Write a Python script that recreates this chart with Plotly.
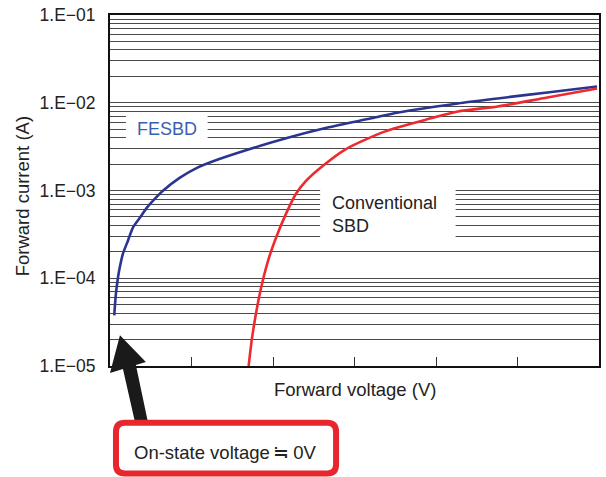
import plotly.graph_objects as go

# Forward characteristics (voltage in axis units, current in A)
fesbd_v = [0.052, 0.073, 0.098, 0.122, 0.159, 0.220, 0.280, 0.366, 0.451, 0.549,
           0.646, 0.854, 1.061, 1.341, 1.707, 2.159, 2.683, 3.207, 3.537, 4.268,
           4.756, 5.366, 5.976]
fesbd_i = [3.78e-5, 6.71e-5, 1.02e-4, 1.36e-4, 1.91e-4, 2.68e-4, 3.76e-4, 4.88e-4,
           6.34e-4, 8.02e-4, 9.86e-4, 1.39e-3, 1.80e-3, 2.28e-3, 2.95e-3, 3.94e-3,
           5.25e-3, 6.64e-3, 7.75e-3, 9.82e-3, 1.12e-2, 1.31e-2, 1.53e-2]

sbd_v = [1.701, 1.744, 1.805, 1.866, 1.951, 2.037, 2.159, 2.280, 2.402, 2.561,
         2.890, 3.378, 3.939, 4.268, 4.756, 5.366, 5.976]
sbd_i = [1.0e-5, 2.13e-5, 4.67e-5, 8.73e-5, 1.72e-4, 2.90e-4, 5.42e-4, 9.12e-4,
         1.28e-3, 1.75e-3, 2.95e-3, 4.72e-3, 6.64e-3, 7.96e-3, 9.06e-3, 1.15e-2,
         1.45e-2]

decades = [-5, -4, -3, -2, -1]
decade_labels = ["1.E\u221205", "1.E\u221204", "1.E\u221203", "1.E\u221202", "1.E\u221201"]
x_ticks = [1, 2, 3, 4, 5]

FONT = "Liberation Sans, Arial, Helvetica, sans-serif"
W, H = 606, 477
ML, MR, MT, MB = 110, 5, 13, 111
PW, PH = W - ML - MR, H - MT - MB


def px(x):
    return (x - ML) / PW


def py(y):
    return (H - MB - y) / PH


# grid at every 1..9 multiple of each decade, labels only at decades
grid_vals, grid_text = [], []
for d, lab in zip(decades, decade_labels):
    for m in range(1, 10):
        if d == -1 and m > 1:
            break
        grid_vals.append(m * 10 ** d)
        grid_text.append(lab if m == 1 else "")

fig = go.Figure()
fig.add_trace(go.Scatter(x=fesbd_v, y=fesbd_i, mode="lines",
                         line=dict(color="#2b3590", width=2.6, shape="spline",
                                   smoothing=0.7), showlegend=False))
fig.add_trace(go.Scatter(x=sbd_v, y=sbd_i, mode="lines",
                         line=dict(color="#ee2a2e", width=2.6, shape="spline",
                                   smoothing=0.7), showlegend=False))

fig.update_xaxes(range=[0, 6], tickvals=x_ticks, ticks="inside", ticklen=9,
                 tickwidth=1, tickcolor="#333", showticklabels=False,
                 showgrid=False, zeroline=False, showline=True, linecolor="#111",
                 linewidth=2, mirror=True)
fig.update_yaxes(type="log", range=[-5, -1], tickvals=grid_vals, ticktext=grid_text,
                 ticks="", showgrid=True, gridcolor="#4a4a4a", gridwidth=1.1,
                 showline=True, linecolor="#111", linewidth=2, mirror=True,
                 ticklabelstandoff=9,
                 tickfont=dict(family=FONT, size=17.5, color="#222"))

shapes = []
# label backgrounds that blank out the grid
shapes.append(dict(type="rect", xref="paper", yref="paper",
                   x0=px(126), x1=px(208), y0=py(139), y1=py(113),
                   fillcolor="white", line=dict(width=0), layer="above"))
shapes.append(dict(type="rect", xref="paper", yref="paper",
                   x0=px(321), x1=px(457), y0=py(238), y1=py(188),
                   fillcolor="white", line=dict(width=0), layer="above"))

# arrow pointing at the origin
arrow_pts = [(120, 335), (146, 362), (136, 365), (148, 422), (135, 422),
             (123, 369), (110, 373)]
path = "M " + " L ".join(f"{px(x):.5f},{py(y):.5f}" for x, y in arrow_pts) + " Z"
shapes.append(dict(type="path", xref="paper", yref="paper", path=path,
                   fillcolor="#1a1a1a", line=dict(width=0), layer="above"))

# rounded call-out box
x0, x1, y0, y1, r = 116, 337, 423, 474, 9
pts = (f"M {px(x0 + r)},{py(y0)} L {px(x1 - r)},{py(y0)} "
       f"Q {px(x1)},{py(y0)} {px(x1)},{py(y0 + r)} L {px(x1)},{py(y1 - r)} "
       f"Q {px(x1)},{py(y1)} {px(x1 - r)},{py(y1)} L {px(x0 + r)},{py(y1)} "
       f"Q {px(x0)},{py(y1)} {px(x0)},{py(y1 - r)} L {px(x0)},{py(y0 + r)} "
       f"Q {px(x0)},{py(y0)} {px(x0 + r)},{py(y0)} Z")
shapes.append(dict(type="path", xref="paper", yref="paper", path=pts,
                   fillcolor="white", line=dict(color="#e8262e", width=6),
                   layer="above"))


def label(text, x, y, size=18, color="#222", **kw):
    d = dict(text=text, x=px(x), y=py(y), xref="paper", yref="paper",
             showarrow=False, xanchor="center", yanchor="middle",
             font=dict(family=FONT, size=size, color=color))
    d.update(kw)
    return d


annotations = [
    label("FESBD", 167, 128, color="#3a5fb0"),
    label("Conventional<br>SBD", 331, 214, xanchor="left", align="left"),
    label("Forward voltage (V)", 355.5, 390, size=18.5),
    label("Forward current (A)", 23, 195, size=18.5, textangle=-90),
    label("On-state voltage\u2009\u2252\u20090V", 225, 453, size=18.5),
]

fig.update_layout(width=W, height=H, margin=dict(l=ML, r=MR, t=MT, b=MB),
                  plot_bgcolor="white", paper_bgcolor="white",
                  shapes=shapes, annotations=annotations)

fig.write_html("out.html")
